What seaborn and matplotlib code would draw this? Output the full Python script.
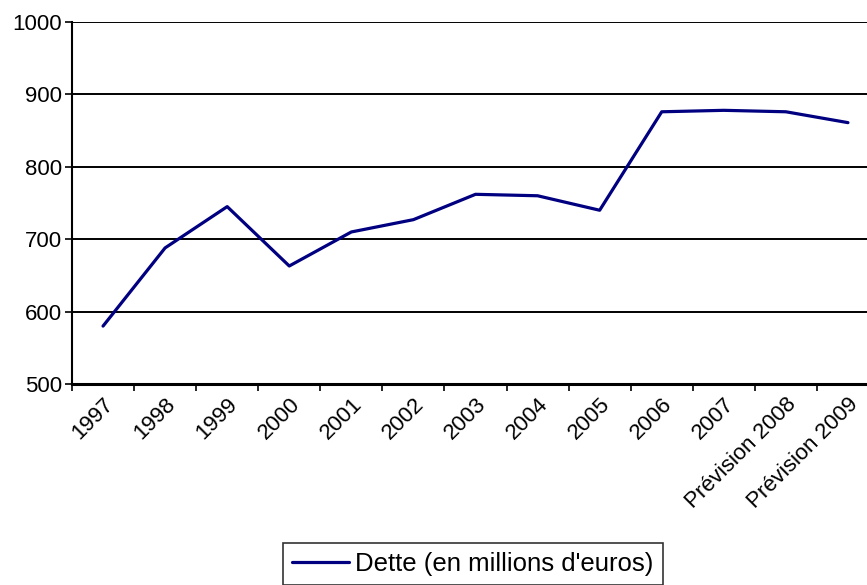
import matplotlib
matplotlib.use("Agg")
import matplotlib.pyplot as plt
import seaborn as sns
import pandas as pd
import numpy as np

categories = ["1997", "1998", "1999", "2000", "2001", "2002", "2003", "2004",
              "2005", "2006", "2007", "Prévision 2008", "Prévision 2009"]
dette = [580, 688, 745, 663, 710, 727, 762, 760, 740, 876, 878, 876, 861]
series_name = "Dette (en millions d'euros)"

sns.set_style("white")
plt.rcParams['font.family'] = ['Liberation Sans', 'DejaVu Sans']
plt.rcParams['text.color'] = 'black'
plt.rcParams['xtick.color'] = 'black'
plt.rcParams['ytick.color'] = 'black'
plt.rcParams['xtick.labelcolor'] = 'black'
plt.rcParams['ytick.labelcolor'] = 'black'

FS = 16
LFS = 18.5

df = pd.DataFrame({"pos": np.arange(len(categories)), "val": dette, "serie": series_name})

fig = plt.figure(figsize=(8.67, 5.85), dpi=100)
ax = fig.add_axes([72/867, 1-384/585, (879-72)/867, (384-22)/585])

sns.lineplot(data=df, x="pos", y="val", hue="serie", palette=["#000080"],
             linewidth=2.3, ax=ax, legend=True)

ax.set_xlim(-0.5, len(categories) - 0.5)
ax.set_ylim(500, 1000)
ax.set_yticks([500, 600, 700, 800, 900, 1000])
ax.tick_params(axis='y', labelsize=FS, length=5, width=1.2, color='black', direction='out', left=True, pad=2)
ax.yaxis.grid(True, color='black', linewidth=1.4)
ax.set_axisbelow(True)

ax.set_xticks(np.arange(len(categories)))
ax.set_xticklabels(categories, rotation=45, ha='right', rotation_mode='anchor', fontsize=FS)
ax.tick_params(axis='x', which='major', length=0, pad=7)
ax.set_xticks(np.arange(-0.5, len(categories) - 0.5, 1.0), minor=True)
ax.tick_params(axis='x', which='minor', length=5, width=1.2, color='black', direction='out', bottom=True)

ax.set_xlabel("")
ax.set_ylabel("")
for s in ['top', 'right']:
    ax.spines[s].set_visible(False)
ax.spines['left'].set_color('black')
ax.spines['left'].set_linewidth(1.5)
ax.spines['bottom'].set_color('black')
ax.spines['bottom'].set_linewidth(2.2)

handles, labels = ax.get_legend_handles_labels()
ax.get_legend().remove()
leg = fig.legend(handles, labels, loc='upper center', bbox_to_anchor=(473/867, 1-543/585),
                 frameon=True, fancybox=False, edgecolor='black', fontsize=LFS,
                 handlelength=2.2, handletextpad=0.25, borderpad=0.35, borderaxespad=0)
leg.get_frame().set_linewidth(1.2)

fig.savefig("out.png", dpi=100)
